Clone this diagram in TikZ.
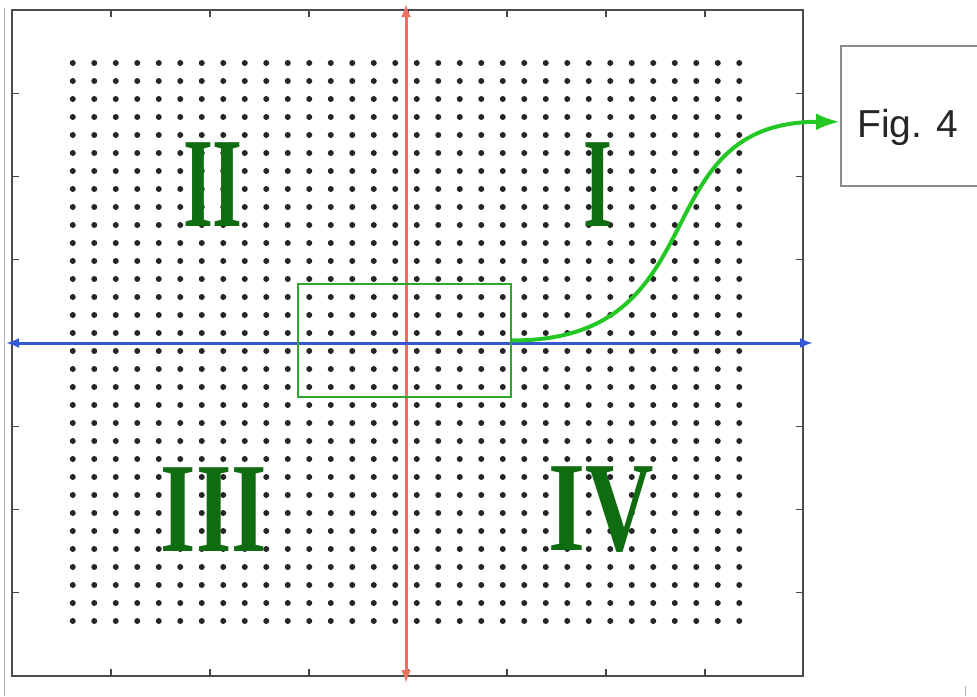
\documentclass[tikz,border=0pt]{standalone}
\usepackage{fontspec}
\setmainfont{Liberation Serif}
\newfontfamily\figfont{Liberation Sans}
\usetikzlibrary{arrows.meta}

\definecolor{axisred}{RGB}{234,112,96}
\definecolor{axisblue}{RGB}{52,88,212}
\definecolor{boxgreen}{RGB}{48,168,48}
\definecolor{curvegreen}{RGB}{36,200,36}
\definecolor{numgreen}{RGB}{16,108,16}

\begin{document}
\begin{tikzpicture}[
    x=1pt, y=-1pt,
    frame/.style   = {draw=black!70, line width=2.5pt},
    tick/.style    = {draw=black!72, line width=1.3pt},
    dot/.style     = {fill=black!85},
    vaxis/.style   = {draw=axisred, line width=3pt,
                      {Latex[length=13pt,width=10pt]}-{Latex[length=13pt,width=10pt]}},
    haxis/.style   = {draw=axisblue, line width=3pt,
                      {Latex[length=13pt,width=10pt]}-{Latex[length=13pt,width=10pt]}},
    zoomrect/.style = {rectangle, draw=boxgreen, line width=2.2pt,
                      minimum width=213pt, minimum height=113pt, inner sep=0pt},
    figbox/.style  = {rectangle, draw=black!45, line width=1.6pt, fill=white,
                      minimum width=150pt, minimum height=140pt, inner sep=0pt},
    figlabel/.style = {font=\figfont\fontsize{39}{39}\selectfont, text=black!85, inner sep=0pt},
    num/.style     = {text=numgreen, font=\bfseries\fontsize{128}{128}\selectfont, inner sep=0pt},
    link/.style    = {draw=curvegreen, line width=4pt,
                      -{Latex[length=24pt,width=17pt]}},
  ]
  \useasboundingbox (0,0) rectangle (977,696);
  \clip (0,0) rectangle (977,696);
  \fill[white] (0,0) rectangle (977,696);
  % stray screen edges
  \draw[black!30, line width=1pt] (4.5,8) -- (4.5,696);
  \draw[black!30, line width=1pt] (965,686) -- (965,696);
  % dot lattice
  \foreach \i in {0,...,31}
    \foreach \j in {0,...,31}
      \fill[dot] ({406+(\i-15.5)*21.5},{342+(\j-15.5)*18}) circle (3pt);
  % plot frame and ticks
  \draw[frame] (12,10) rectangle (803,676);
  \foreach \k in {1,...,7}{
    \draw[tick] ({12+99*\k},10) -- ++(0,7);
    \draw[tick] ({12+99*\k},676) -- ++(0,-7);
    \draw[tick] (12,{10+83.25*\k}) -- ++(7,0);
    \draw[tick] (803,{10+83.25*\k}) -- ++(-7,0);
  }
  % quadrant numbers
  \node[num] (q2) at (213,185) {\scalebox{0.6}[1]{II}};
  \node[num] (q1) at (598,185) {\scalebox{0.58}[1]{I}};
  \node[num] (q3) at (214,510) {\scalebox{0.71}[1]{III}};
  \node[num] (q4) at (601,510) {\scalebox{0.74}[1]{IV}};
  % axes
  \coordinate (ytop) at (406,4);
  \coordinate (ybot) at (406,683);
  \coordinate (xlft) at (6,343);
  \coordinate (xrgt) at (813,343);
  \draw[vaxis] (ybot) -- (ytop);
  \draw[haxis] (xlft) -- (xrgt);
  % zoomed region and figure box
  \node[zoomrect] (zoombox) at (404.5,340.5) {};
  \node[figbox, anchor=north west] (fig4) at (840,45) {};
  \node[figlabel, anchor=base west] (figtext) at (857,137) {Fig. 4};
  \draw[link] (zoombox.east) .. controls +(209,0) and +(-200,0) .. ([yshift=-6pt]fig4.west);
\end{tikzpicture}
\end{document}
